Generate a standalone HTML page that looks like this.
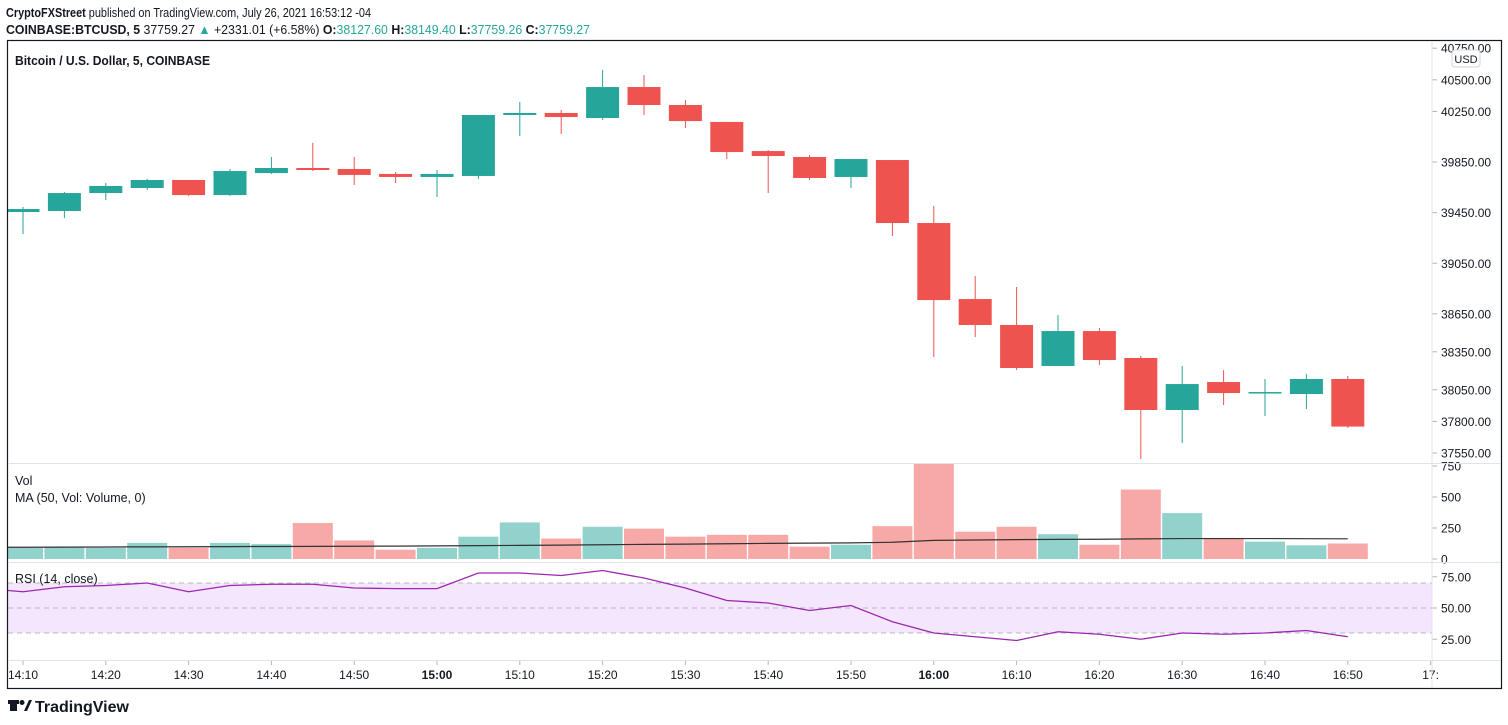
<!DOCTYPE html>
<html><head><meta charset="utf-8"><style>
html,body{margin:0;padding:0;background:#fff;}
svg{display:block;font-family:"Liberation Sans",sans-serif;}
</style></head><body>
<svg id="chart" width="1508" height="725" viewBox="0 0 1508 725" xmlns="http://www.w3.org/2000/svg">
<defs>
<clipPath id="cp-price"><rect x="8" y="41" width="1424" height="422"/></clipPath>
<clipPath id="cp-vol"><rect x="8" y="464" width="1424" height="98"/></clipPath>
<clipPath id="cp-rsi"><rect x="8" y="563" width="1424" height="97"/></clipPath>
</defs>
<rect width="1508" height="725" fill="#fff"/>
<text x="6" y="17" font-size="13" fill="#131722" textLength="365" lengthAdjust="spacingAndGlyphs"><tspan font-weight="bold">CryptoFXStreet</tspan> published on TradingView.com, July 26, 2021 16:53:12 -04</text>
<text x="6" y="34" font-size="13" fill="#131722" textLength="584" lengthAdjust="spacingAndGlyphs"><tspan font-weight="bold">COINBASE:BTCUSD, 5</tspan> 37759.27 <tspan fill="#26a69a">▲</tspan> +2331.01 (+6.58%) <tspan font-weight="bold">O:</tspan><tspan fill="#26a69a">38127.60</tspan> <tspan font-weight="bold">H:</tspan><tspan fill="#26a69a">38149.40</tspan> <tspan font-weight="bold">L:</tspan><tspan fill="#26a69a">37759.26</tspan> <tspan font-weight="bold">C:</tspan><tspan fill="#26a69a">37759.27</tspan></text>
<g id="grid"></g>
<g id="rsiG" clip-path="url(#cp-rsi)"></g>
<g id="volG" clip-path="url(#cp-vol)"></g>
<g id="marks" clip-path="url(#cp-price)"></g>
<rect x="7.5" y="40.5" width="1494" height="648" fill="none" stroke="#131722" stroke-width="1.2"/>
<line x1="1432" y1="41" x2="1432" y2="688" stroke="#e0e3eb"/>
<line x1="8" y1="463.5" x2="1501" y2="463.5" stroke="#e0e3eb"/>
<line x1="8" y1="562.5" x2="1501" y2="562.5" stroke="#e0e3eb"/>
<line x1="8" y1="660.5" x2="1501" y2="660.5" stroke="#e0e3eb"/>
<text x="15" y="65" font-size="13" font-weight="bold" fill="#131722" textLength="195" lengthAdjust="spacingAndGlyphs">Bitcoin / U.S. Dollar, 5, COINBASE</text>
<rect x="1452" y="50" width="28" height="17" rx="3" fill="#fff" stroke="#d1d4dc"/>
<text x="1466" y="63" font-size="11" text-anchor="middle" fill="#131722">USD</text>
<text x="15" y="485" font-size="12.5" fill="#131722">Vol</text>
<text x="15" y="502" font-size="12.5" fill="#131722">MA (50, Vol: Volume, 0)</text>
<text x="15" y="583" font-size="12.5" fill="#131722">RSI (14, close)</text>
<g>
<rect x="10" y="700" width="7" height="11" fill="#131722"/><rect x="8" y="700" width="11" height="4" fill="#131722"/>
<circle cx="22" cy="702.5" r="2.5" fill="#131722"/><path d="M24 711 L29 700 L32 700 L27 711 Z" fill="#131722"/>
<text x="35" y="712" font-size="16" font-weight="bold" fill="#131722">TradingView</text>
</g>
</svg>
<script>
const times = ["14:10","14:15","14:20","14:25","14:30","14:35","14:40","14:45","14:50","14:55","15:00","15:05","15:10","15:15","15:20","15:25","15:30","15:35","15:40","15:45","15:50","15:55","16:00","16:05","16:10","16:15","16:20","16:25","16:30","16:35","16:40","16:45","16:50"];
const opens  = [39455,39463,39605,39645,39708,39589,39763,39803,39795,39756,39732,39740,40222,40238,40198,40443,40301,40167,39937,39890,39732,39866,39368,38767,38562,38238,38514,38301,37890,38111,38024,38016,38135];
const highs  = [39495,39613,39684,39716,39708,39795,39890,40001,39890,39771,39787,40222,40325,40261,40578,40538,40340,40167,39945,39906,39874,39866,39503,38949,38862,38641,38538,38317,38238,38206,38135,38175,38159];
const lows   = [39281,39408,39550,39629,39582,39582,39756,39779,39669,39684,39574,39716,40056,40072,40182,40222,40119,39874,39605,39708,39645,39265,38309,38467,38206,38238,38246,37503,37629,37929,37842,37898,37748];
const closes = [39479,39605,39661,39708,39589,39779,39803,39787,39748,39732,39756,40222,40238,40206,40443,40301,40174,39929,39898,39724,39874,39368,38759,38562,38222,38514,38285,37890,38095,38024,38032,38135,37759];
const volumes = [90,100,90,130,90,130,120,290,150,75,90,180,295,165,260,245,180,195,195,100,115,265,790,220,260,200,115,560,370,170,140,110,125];
const volMA = [95,96,97,98,99,100,101,102,103,104,106,108,110,112,115,118,120,123,126,128,130,135,150,153,156,158,159,162,165,165,165,164,163];
const rsiVals = [63,67,68,70,63,68,69,69,66,65.5,65.5,78,78,76,80,74,66,56,54,48,52,39,30,27,24,31,29,25,30,29,30,32,27];
const priceTicks = [40750,40500,40250,39850,39450,39050,38650,38350,38050,37800,37550];
const volTicks = [750,500,250,0];
const rsiTicks = [75,50,25];
const timeTicks = ["14:10","14:20","14:30","14:40","14:50","15:00","15:10","15:20","15:30","15:40","15:50","16:00","16:10","16:20","16:30","16:40","16:50","17:"];

const NS="http://www.w3.org/2000/svg";
const marks=document.getElementById('marks'), grid=document.getElementById('grid');
const volG=document.getElementById('volG'), rsiG=document.getElementById('rsiG');
function mk(tag,attrs,parent){const e=document.createElementNS(NS,tag);for(const k in attrs)e.setAttribute(k,attrs[k]);(parent||marks).appendChild(e);return e;}
const xAt=i=>23+i*41.4;
const yP=p=>453-(p-37550)*0.1265;
const yV=v=>559-v*0.124;
const yR=r=>608-(r-50)*1.25;
const UP="#26a69a",DN="#ef5350";

priceTicks.forEach(p=>{
  const y=yP(p);
  mk('line',{x1:1432,x2:1437,y1:y,y2:y,stroke:"#b2b5be"},grid);
  const t=mk('text',{x:1441,y:y+4.5,'font-size':12,fill:"#131722"},grid);
  
  
  t.textContent=p.toFixed(2);
});
volTicks.forEach(v=>{
  const y=yV(v);
  mk('line',{x1:1432,x2:1437,y1:y,y2:y,stroke:"#b2b5be"},grid);
  const t=mk('text',{x:1441,y:y+4.5,'font-size':12,fill:"#131722"},grid);
  
  
  t.textContent=String(v);
});
rsiTicks.forEach(r=>{
  const y=yR(r);
  mk('line',{x1:1432,x2:1437,y1:y,y2:y,stroke:"#b2b5be"},grid);
  const t=mk('text',{x:1441,y:y+4.5,'font-size':12,fill:"#131722"},grid);
  
  
  t.textContent=r.toFixed(2);
});
timeTicks.forEach((lab,k)=>{
  const x=xAt(k*2);
  mk('line',{x1:x,x2:x,y1:661,y2:665,stroke:"#b2b5be"},grid);
  const t=mk('text',{x:x,y:679,'font-size':12,'text-anchor':'middle',fill:"#131722",'font-weight':lab==="15:00"||lab==="16:00"?"bold":"normal"},grid);
  
  
  t.textContent=lab;
});
const band=mk('rect',{x:8,y:yR(70),width:1424,height:yR(30)-yR(70),fill:"#f3e6fd"},rsiG);


[70,50,30].forEach(r=>{
  const l=mk('line',{x1:8,x2:1432,y1:yR(r),y2:yR(r),stroke:"#b8b8c0",'stroke-dasharray':"5,4"},rsiG);
  
  
});
volumes.forEach((v,i)=>{
  const up=closes[i]>=opens[i];
  const b=mk('rect',{x:xAt(i)-20,y:yV(v),width:40,height:yV(0)-yV(v),fill:up?"#92d2cc":"#f7a9a7"},volG);
  
  
});
const ma=mk('polyline',{points:"8,"+yV(volMA[0])+" "+volMA.map((v,i)=>xAt(i)+","+yV(v)).join(" "),fill:"none",stroke:"#333",'stroke-width':1.2},volG);


const rl=mk('polyline',{points:"8,"+yR(rsiVals[0]+1)+" "+rsiVals.map((r,i)=>xAt(i)+","+yR(r)).join(" "),fill:"none",stroke:"#9c27b0",'stroke-width':1.3},rsiG);


opens.forEach((o,i)=>{
  const c=closes[i],up=c>=o,col=up?UP:DN,x=xAt(i);
  const g=mk('g',{});
  
  
  mk('line',{x1:x,x2:x,y1:yP(highs[i]),y2:yP(lows[i]),stroke:col,'stroke-width':1},g);
  const top=yP(Math.max(o,c)),bot=yP(Math.min(o,c));
  mk('rect',{x:x-16.5,y:top,width:33,height:Math.max(1.5,bot-top),fill:col},g);
});
</script>
</body></html>
